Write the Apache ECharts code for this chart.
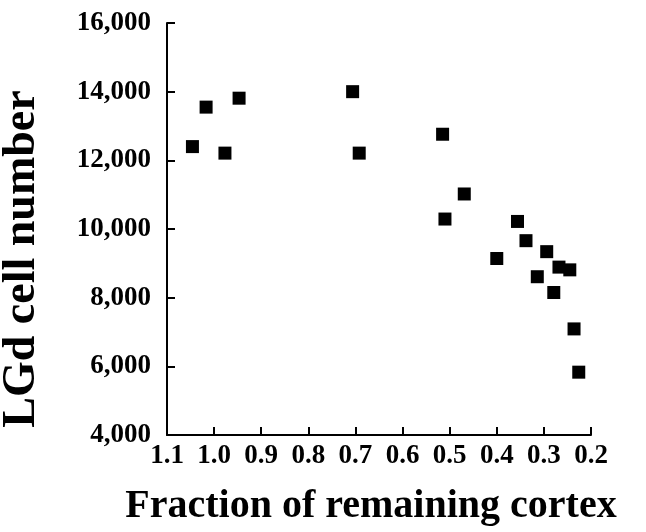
<!DOCTYPE html>
<html>
<head>
<meta charset="utf-8">
<script src="https://cdn.jsdelivr.net/npm/echarts@6/dist/echarts.min.js"></script>
<style>
  html, body { margin: 0; padding: 0; background: #fff; }
  #chart { width: 646px; height: 532px; }
</style>
</head>
<body>
<div id="chart"></div>
<script>
// fraction of remaining cortex (x) vs LGd cell number (y)
const fraction = [1.046, 1.017, 0.977, 0.947, 0.706, 0.692, 0.515, 0.510, 0.469, 0.400,
  0.356, 0.338, 0.314, 0.294, 0.279, 0.268, 0.245, 0.236, 0.226];
const cellNumber = [12400, 13550, 12210, 13810, 14000, 12210, 12760, 10290, 11020, 9140,
  10220, 9660, 8610, 9340, 8150, 8890, 8810, 7090, 5830];
const xTicks = [1.1, 1.0, 0.9, 0.8, 0.7, 0.6, 0.5, 0.4, 0.3, 0.2];
const yTicks = [4000, 6000, 8000, 10000, 12000, 14000, 16000];

const serif = 'Liberation Serif';
const chart = echarts.init(document.getElementById('chart'));

const points = fraction.map((f, i) => [f, cellNumber[i]]);

chart.setOption({
  backgroundColor: '#fff',
  animation: false,
  grid: { left: 167, right: 55, top: 23, bottom: 97, containLabel: false, outerBoundsMode: 'none' },
  xAxis: {
    type: 'value',
    inverse: true,
    min: xTicks[xTicks.length - 1],
    max: xTicks[0],
    interval: 0.1,
    name: 'Fraction of remaining cortex',
    nameLocation: 'middle',
    nameGap: 52,
    nameTextStyle: {
      fontFamily: serif, fontWeight: 'bold', fontSize: 40, color: '#000',
      padding: [0, 16, 0, 0]
    },
    axisLine: { lineStyle: { color: '#000', width: 2 } },
    axisTick: { inside: true, length: 8, lineStyle: { color: '#000', width: 2 } },
    axisLabel: {
      margin: 8,
      fontFamily: serif, fontWeight: 'bold', fontSize: 27, color: '#000',
      formatter: v => v.toFixed(1)
    },
    splitLine: { show: false }
  },
  yAxis: {
    type: 'value',
    min: yTicks[0],
    max: yTicks[yTicks.length - 1],
    interval: 2000,
    name: 'LGd cell number',
    nameLocation: 'middle',
    nameGap: 122,
    nameTextStyle: {
      fontFamily: serif, fontWeight: 'bold', fontSize: 46, color: '#000',
      padding: [0, 60, 0, 0]
    },
    axisLine: { show: true, lineStyle: { color: '#000', width: 2 } },
    axisTick: { show: true, inside: true, length: 8, lineStyle: { color: '#000', width: 2 } },
    axisLabel: {
      margin: 16,
      fontFamily: serif, fontWeight: 'bold', fontSize: 27, color: '#000',
      formatter: v => v.toLocaleString('en-US')
    },
    splitLine: { show: false }
  },
  series: [{
    type: 'scatter',
    symbol: 'rect',
    symbolSize: 13,
    itemStyle: { color: '#000', opacity: 1 },
    data: points
  }]
});
</script>
</body>
</html>
